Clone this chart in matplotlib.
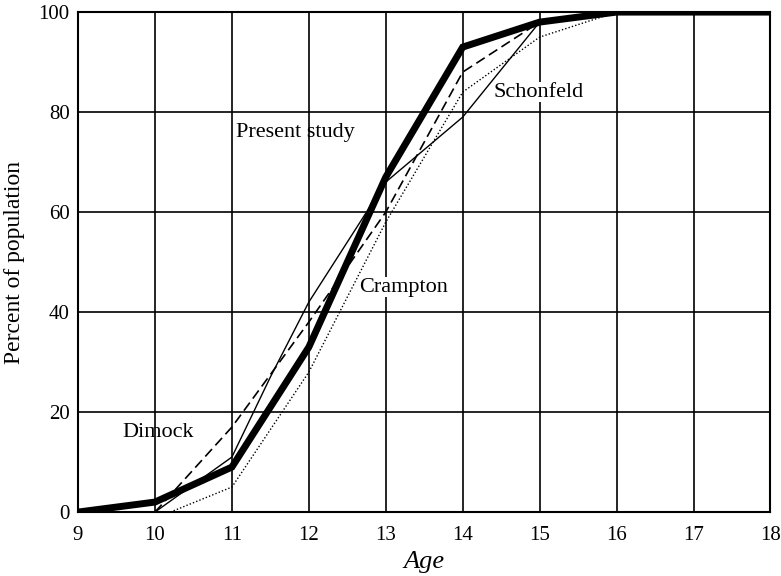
import matplotlib
matplotlib.use('Agg')
import matplotlib.pyplot as plt

plt.rcParams['font.family'] = ['Liberation Serif', 'DejaVu Serif']

ages = [9, 10, 11, 12, 13, 14, 15, 16, 17, 18]
present_study = [0, 2, 9, 33, 67, 93, 98, 100, 100, 100]

dimock_ages = [10, 11, 12, 13, 14, 15, 16, 17, 18]
dimock = [0, 17, 38, 60, 88, 98, 100, 100, 100]

schonfeld_ages = [10, 11, 11.5, 12, 13, 14, 15, 16, 17, 18]
schonfeld = [0, 11, 27, 42, 66, 79, 98, 100, 100, 100]

crampton_ages = [10.2, 11, 12, 13, 14, 15, 16, 17, 18]
crampton = [0, 5, 28, 58, 84, 95, 100, 100, 100]

# (text, x, y, masks grid underneath)
labels = [
    ('Present study', 11.05, 76, False),
    ('Schonfeld', 14.4, 84, True),
    ('Crampton', 12.65, 45, True),
    ('Dimock', 9.57, 16, False),
]

fig = plt.figure(figsize=(7.81, 5.76), dpi=100)
ax = fig.add_axes([0.0999, 0.111, 0.8866, 0.868])

ax.plot(ages, present_study, color='black', lw=5, solid_joinstyle='miter', zorder=5)
ax.plot(dimock_ages, dimock, color='black', lw=1.2, ls=(0, (6, 3)), zorder=4)
ax.plot(schonfeld_ages, schonfeld, color='black', lw=1.0, zorder=4)
ax.plot(crampton_ages, crampton, color='black', lw=1.0, ls=(0, (1, 1.5)), zorder=4)

for text, x, y, masked in labels:
    box = dict(facecolor='white', edgecolor='none', pad=0.5) if masked else None
    ax.text(x, y, text, fontsize=16, ha='left', va='center', zorder=6, bbox=box)

ax.set_xlim(9, 18)
ax.set_ylim(0, 100)
ax.set_xticks(ages)
ax.set_yticks([0, 20, 40, 60, 80, 100])
ax.grid(True, color='black', lw=1.2)
ax.set_axisbelow(True)
for spine in ax.spines.values():
    spine.set_linewidth(1.5)
ax.tick_params(length=0, labelsize=15, pad=6)
ax.tick_params(axis='x', pad=10)

ax.set_xlabel('Age', fontsize=19, style='italic', labelpad=4)
ax.set_ylabel('Percent of population', fontsize=17, labelpad=10)

fig.savefig('out.png', dpi=100)
